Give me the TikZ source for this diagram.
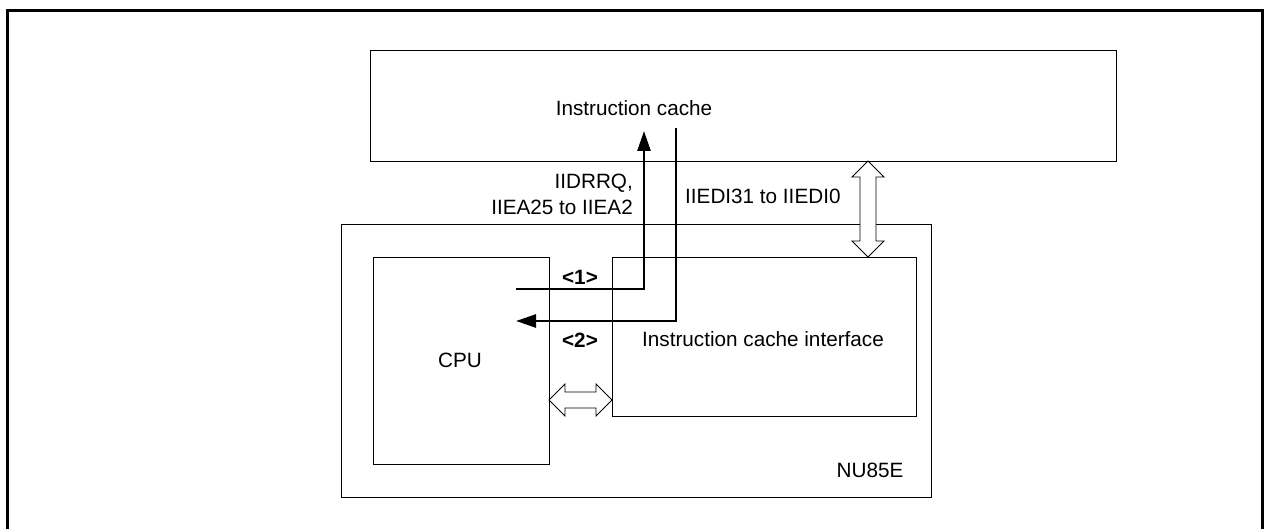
\documentclass[tikz,border=0pt]{standalone}
\usepackage{fontspec}
\setmainfont{Liberation Sans}
\usetikzlibrary{arrows.meta}
\begin{document}
\begin{tikzpicture}[x=1pt,y=-1pt,
  box/.style={draw=black,line width=1.1pt,minimum width=#1,inner sep=0pt,anchor=north west},
  lbl/.style={inner sep=0pt,font=\fontsize{20.7}{24}\selectfont},
  sig/.style={line width=2.6pt,-{Triangle[length=20pt,width=13pt]}},
  dbl/.style={draw=black,line width=0.9pt,fill=white,line join=miter}]
\useasboundingbox (0,0) rectangle (1267,529);
% outer frame
\draw[line width=2.6pt] (7.3,545) -- (7.3,10.8) -- (1262.7,10.8) -- (1262.7,545);
% boxes
\node[box=746pt,minimum height=111pt] (ic) at (370,50) {};
\node[box=590pt,minimum height=273pt] (nu) at (341,224) {};
\node[box=176pt,minimum height=207pt] (cpu) at (373,257) {};
\node[box=304pt,minimum height=159pt] (ici) at (612,257) {};
% texts
\node[lbl] (tic) at (634,108) {Instruction cache};
\node[lbl,anchor=east] (t1) at (633,183) {IIDRRQ,};
\node[lbl,anchor=east] (t2) at (633,207) {IIEA25 to IIEA2};
\node[lbl,anchor=west] (t3) at (685,196) {IIEDI31 to IIEDI0};
\node[lbl,font=\fontsize{20.7}{24}\selectfont\bfseries] (n1) at (580,277) {<1>};
\node[lbl,font=\fontsize{20.7}{24}\selectfont\bfseries] (n2) at (580,340) {<2>};
\node[lbl] (tici) at (763,339) {Instruction cache interface};
\node[lbl] (tcpu) at (460,360) {CPU};
\node[lbl] (tnu) at (870,470) {NU85E};
% signal arrows
\coordinate (a1s) at (516,289);
\coordinate (a1e) at (644,131);
\coordinate (a2s) at (676,128);
\coordinate (a2e) at (516,321);
\draw[sig] (a1s) -| (a1e);
\draw[sig] (a2s) |- (a2e);
% vertical double arrow between ic and ici
\coordinate (vt) at (868,161);
\draw[dbl] (vt) -- ++(16,16) -- ++(-8,0) -- ++(0,64) -- ++(8,0) -- ++(-16,16)
  -- ++(-16,-16) -- ++(8,0) -- ++(0,-64) -- ++(-8,0) -- cycle;
% horizontal double arrow between cpu and ici
\coordinate (hl) at (549,400);
\draw[dbl] (hl) -- ++(16,-16) -- ++(0,8) -- ++(31,0) -- ++(0,-8) -- ++(16,16)
  -- ++(-16,16) -- ++(0,-8) -- ++(-31,0) -- ++(0,8) -- cycle;
\end{tikzpicture}
\end{document}
